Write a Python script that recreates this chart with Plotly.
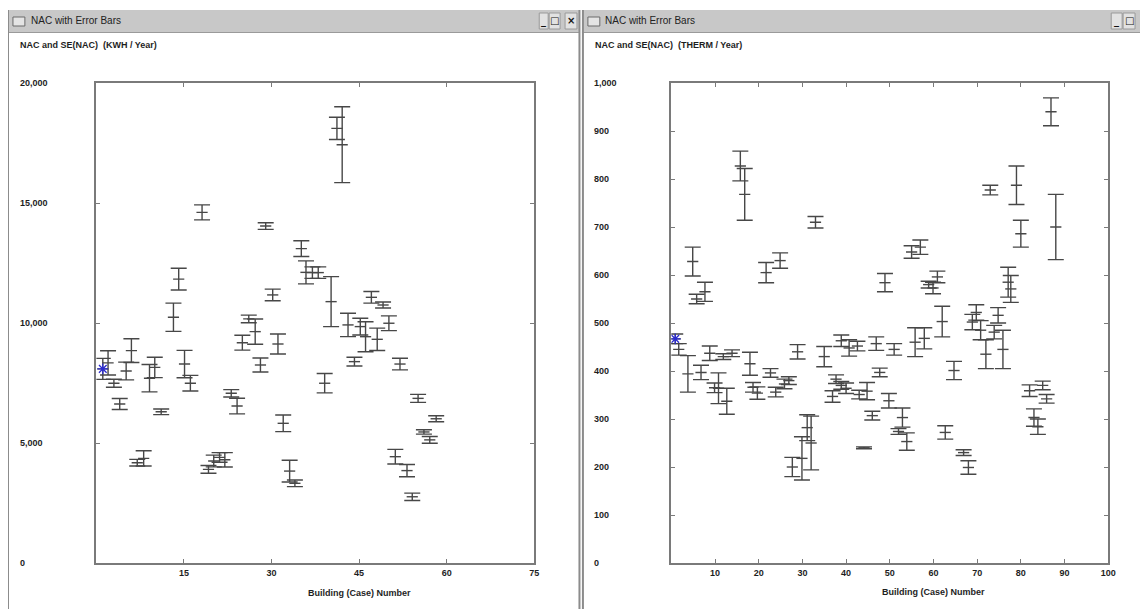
import plotly.graph_objects as go

# page is rendered inside the default 8px body margin -> compensate
OFF = 8
W, H = 1148, 609
FW, FH = W - OFF, H - OFF

# ---------------- data ----------------
kwh_case = [1.1, 2.0, 3.0, 4.0, 5.1, 6.0, 7.0, 8.1, 9.1, 10.0, 11.1, 13.2, 14.1, 15.1, 16.1,
            18.1, 19.2, 20.1, 21.1, 22.0, 23.1, 24.1, 25.0, 26.1, 27.2, 28.1, 29.0, 30.2, 31.1,
            32.0, 33.1, 34.0, 35.1, 35.9, 37.0, 38.0, 39.1, 40.2, 41.2, 42.1, 43.1, 44.2, 45.2,
            46.1, 47.1, 48.1, 49.1, 50.1, 51.2, 52.0, 53.2, 54.1, 55.1, 56.1, 57.1, 58.2]
kwh_nac = [8090, 8340, 7490, 6625, 8000, 8850, 4180, 4360, 7700, 8150, 6300, 10240, 11830, 8290,
           7490, 14610, 3900, 4250, 4400, 4300, 7070, 6540, 9180, 10170, 9640, 8250, 14040, 11170,
           9125, 5820, 3830, 3320, 13100, 12110, 12100, 12100, 7490, 10890, 18110, 17430, 9920,
           8390, 9850, 9430, 11070, 9320, 10750, 9990, 4430, 8290, 3850, 2760, 6860, 5460, 5130,
           6010]
kwh_se = [437, 506, 167, 229, 369, 493, 139, 319, 570, 424, 118, 590, 452, 569, 326, 312, 160,
          243, 200, 300, 153, 326, 312, 160, 528, 292, 137, 243, 417, 347, 452, 139, 330, 479,
          240, 240, 403, 1042, 465, 1583, 486, 181, 347, 625, 243, 466, 125, 306, 306, 243, 257,
          153, 167, 90, 139, 125]

therm_case = [0.9, 1.7, 3.8, 4.9, 5.8, 6.8, 7.7, 8.8, 9.9, 10.8, 11.9, 12.7, 13.9, 15.8, 16.8,
              18.0, 18.7, 19.7, 21.7, 22.7, 23.9, 24.9, 25.9, 26.9, 27.7, 28.9, 29.9, 31.1, 32.0,
              33.0, 35.0, 36.9, 37.7, 38.9, 38.9, 40.0, 40.7, 42.6, 43.0, 44.1, 44.8, 46.0, 46.9,
              47.7, 48.9, 49.8, 51.0, 52.0, 52.9, 53.9, 55.0, 55.8, 57.0, 57.9, 58.9, 59.9, 60.9,
              62.0, 62.7, 64.7, 66.9, 68.0, 68.9, 69.8, 70.8, 72.0, 73.0, 73.9, 74.8, 75.9, 77.1,
              77.7, 79.0, 80.0, 82.0, 83.0, 83.9, 85.0, 85.9, 86.9, 88.0]
therm_nac = [467, 445, 394, 628, 550, 397, 565, 437, 365, 364, 430, 337, 437, 827, 768, 415, 366,
             354, 605, 396, 356, 630, 373, 380, 200, 440, 218, 282, 250, 710, 430, 347, 383, 463,
             370, 364, 448, 452, 351, 240, 358, 307, 457, 397, 584, 338, 445, 274, 303, 253, 648,
             460, 658, 468, 580, 573, 596, 503, 272, 401, 230, 199, 502, 522, 485, 435, 777, 481,
             516, 445, 585, 571, 787, 686, 359, 303, 284, 370, 342, 940, 700]
therm_se = [10, 12, 38, 30, 10, 15, 20, 15, 10, 32, 6, 27, 7, 31, 54, 24, 10, 13, 21, 9, 10, 16,
            10, 8, 20, 15, 45, 27, 56, 12, 21, 12, 9, 12, 8, 11, 17, 10, 9, 2, 18, 9, 14, 9, 19,
            15, 12, 6, 20, 18, 13, 30, 15, 22, 7, 12, 12, 32, 14, 19, 6, 14, 16, 16, 20, 30, 10,
            14, 16, 40, 31, 28, 40, 28, 12, 18, 16, 9, 9, 29, 68]

kwh_yticks = [0, 5000, 10000, 15000, 20000]
kwh_ytext = ["0", "5,000", "10,000", "15,000", "20,000"]
kwh_xticks = [15, 30, 45, 60, 75]
therm_yticks = [0, 100, 200, 300, 400, 500, 600, 700, 800, 900, 1000]
therm_ytext = ["0", "100", "200", "300", "400", "500", "600", "700", "800", "900", "1,000"]
therm_xticks = [10, 20, 30, 40, 50, 60, 70, 80, 90, 100]

window_title = "NAC with Error Bars"
kwh_subtitle = "NAC and SE(NAC)  (KWH / Year)"
therm_subtitle = "NAC and SE(NAC)  (THERM / Year)"
x_title = "Building (Case) Number"

# ---------------- style ----------------
FONT = "Liberation Sans"
BAR = "#474747"
AX = "#7a7a7a"
TXT = "#1e1e1e"
STAR = "#2b2bd0"


def px(x):
    return (x - OFF) / FW


def py(y):
    return 1 - (y - OFF) / FH


fig = go.Figure()


def add_panel(xs, ys, es, xa, ya):
    fig.add_trace(go.Scatter(
        x=xs, y=ys, mode="markers", xaxis=xa, yaxis=ya, showlegend=False,
        marker=dict(symbol="line-ew-open", size=8, color=BAR, line=dict(width=1.4, color=BAR)),
        error_y=dict(type="data", array=es, visible=True, color=BAR, thickness=1.4, width=8),
    ))
    fig.add_trace(go.Scatter(
        x=[xs[0]], y=[ys[0]], mode="markers", xaxis=xa, yaxis=ya, showlegend=False,
        marker=dict(symbol="asterisk-open", size=9, color=STAR, line=dict(width=1.3, color=STAR)),
    ))


add_panel(kwh_case, kwh_nac, kwh_se, "x", "y")
add_panel(therm_case, therm_nac, therm_se, "x2", "y2")

ydom = [py(563), py(83)]
common_x = dict(ticks="inside", ticklen=4, tickwidth=1, tickcolor=AX, showline=True,
                mirror="ticks", linecolor=AX, linewidth=2, showgrid=False, zeroline=False,
                tickfont=dict(family=FONT, size=9, color=TXT, weight="bold"), fixedrange=True)
common_y = dict(ticks="inside", ticklen=4, tickwidth=1, tickcolor=AX, showline=True,
                mirror="ticks", linecolor=AX, linewidth=2, showgrid=False, zeroline=False,
                showticklabels=False, fixedrange=True)

fig.update_layout(
    width=FW, height=FH, margin=dict(l=0, r=0, t=0, b=0),
    paper_bgcolor="white", plot_bgcolor="white", showlegend=False,
    xaxis=dict(domain=[px(97), px(538)], range=[0, 75], tickvals=kwh_xticks, anchor="y", **common_x),
    yaxis=dict(domain=ydom, range=[0, 20000], tickvals=kwh_yticks, anchor="x", **common_y),
    xaxis2=dict(domain=[px(676), px(1116)], range=[0, 100], tickvals=therm_xticks, anchor="y2", **common_x),
    yaxis2=dict(domain=ydom, range=[0, 1000], tickvals=therm_yticks, anchor="x2", **common_y),
)

ann = []
# y tick labels (left aligned, as in the original window)
for v, t in zip(kwh_yticks, kwh_ytext):
    ann.append(dict(x=px(18), xref="paper", y=v, yref="y", text=t, showarrow=False,
                    xanchor="left", yanchor="middle",
                    font=dict(family=FONT, size=9, color=TXT, weight="bold")))
for v, t in zip(therm_yticks, therm_ytext):
    ann.append(dict(x=px(596), xref="paper", y=v, yref="y2", text=t, showarrow=False,
                    xanchor="left", yanchor="middle",
                    font=dict(family=FONT, size=9, color=TXT, weight="bold")))

# x axis titles
ann.append(dict(x=px(362), y=py(593), xref="paper", yref="paper", text=x_title, showarrow=False,
                xanchor="center", yanchor="middle",
                font=dict(family=FONT, size=9, color=TXT, weight="bold")))
ann.append(dict(x=px(940), y=py(592), xref="paper", yref="paper", text=x_title, showarrow=False,
                xanchor="center", yanchor="middle",
                font=dict(family=FONT, size=9, color=TXT, weight="bold")))

# subtitles
ann.append(dict(x=px(18), y=py(45), xref="paper", yref="paper", text=kwh_subtitle, showarrow=False,
                xanchor="left", yanchor="middle",
                font=dict(family=FONT, size=9, color=TXT, weight="bold")))
ann.append(dict(x=px(597), y=py(45), xref="paper", yref="paper", text=therm_subtitle, showarrow=False,
                xanchor="left", yanchor="middle",
                font=dict(family=FONT, size=9, color=TXT, weight="bold")))

# window titles
ann.append(dict(x=px(29), y=py(21), xref="paper", yref="paper", text=window_title, showarrow=False,
                xanchor="left", yanchor="middle", font=dict(family=FONT, size=10, color="#222")))
ann.append(dict(x=px(607), y=py(21), xref="paper", yref="paper", text=window_title, showarrow=False,
                xanchor="left", yanchor="middle", font=dict(family=FONT, size=10, color="#222")))

shapes = []


def rect(x0, y0, x1, y1, fill, line=None, lw=0):
    shapes.append(dict(type="rect", xref="paper", yref="paper", x0=px(x0), x1=px(x1),
                       y0=py(y1), y1=py(y0), fillcolor=fill, layer="below",
                       line=dict(width=lw, color=line or fill)))


def vline(x, y0, y1, color, w):
    shapes.append(dict(type="line", xref="paper", yref="paper", x0=px(x), x1=px(x),
                       y0=py(y1), y1=py(y0), line=dict(color=color, width=w)))


def hline(x0, x1, y, color, w):
    shapes.append(dict(type="line", xref="paper", yref="paper", x0=px(x0), x1=px(x1),
                       y0=py(y), y1=py(y), line=dict(color=color, width=w)))


# title bars
rect(7, 10, 583, 32, "#c8c8c8")
rect(586, 10, 1148, 32, "#c8c8c8")
hline(7, 583, 32.5, "#9a9a9a", 1)
hline(586, 1148, 32.5, "#9a9a9a", 1)
# window borders
vline(8, 10, 609, "#8c8c8c", 2)
vline(583.5, 10, 609, "#8c8c8c", 2)
vline(587, 10, 609, "#8c8c8c", 2)
# icons
rect(13, 17, 25, 26, "#e4e4e4", "#6a6a6a", 1)
rect(592, 17, 604, 26, "#e4e4e4", "#6a6a6a", 1)
# buttons
for (a, b) in [(543, 552), (553, 564), (569, 581), (1119, 1130), (1131, 1143)]:
    rect(a, 13, b, 29, "#e2e2e2", "#9a9a9a", 1)

btns = [(547.5, "_"), (558.5, "□"), (575, "×"), (1124.5, "_"), (1137, "□")]
for x, t in btns:
    ann.append(dict(x=px(x), y=py(21), xref="paper", yref="paper", text=t, showarrow=False,
                    xanchor="center", yanchor="middle",
                    font=dict(family="DejaVu Sans", size=10, color="#111", weight="bold")))

fig.update_layout(annotations=ann, shapes=shapes)

fig.write_html("out.html")
